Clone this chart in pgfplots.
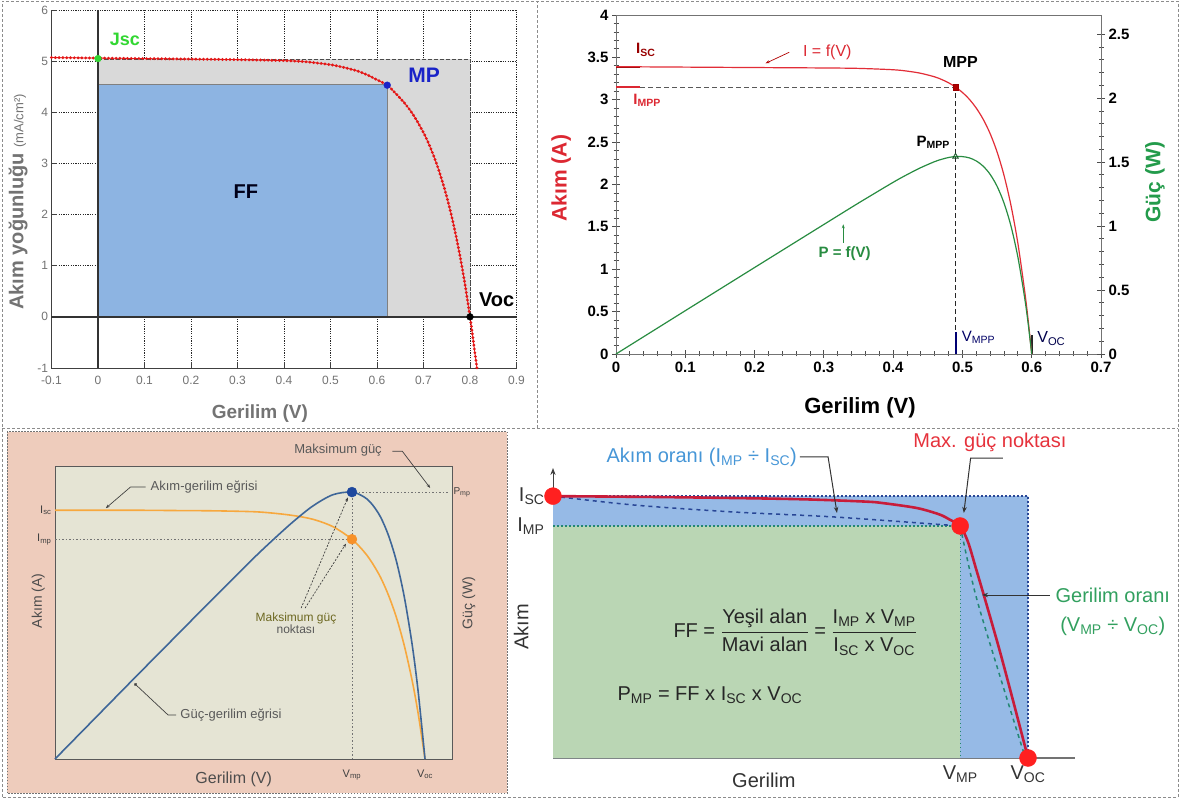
\documentclass[border=0pt]{standalone}
\usepackage{fontspec}
\setmainfont{Liberation Sans}
\usepackage{pgfplots}
\pgfplotsset{compat=1.18}
\usetikzlibrary{arrows.meta}
\newcommand{\fsz}[1]{\fontsize{#1}{#1}\selectfont}
\definecolor{rectgray}{RGB}{217,217,217}
\definecolor{rectblue}{RGB}{141,180,226}
\definecolor{jvred}{RGB}{228,22,22}
\definecolor{jscgreen}{RGB}{50,215,50}
\definecolor{mpblue}{RGB}{25,35,200}
\definecolor{ivred}{RGB}{226,45,55}
\definecolor{pvgreen}{RGB}{40,140,65}
\definecolor{labred}{RGB}{220,40,50}
\definecolor{labgreen}{RGB}{35,155,75}
\definecolor{pinkbg}{RGB}{238,204,188}
\definecolor{beige}{RGB}{229,228,212}
\definecolor{ivorange}{RGB}{247,168,62}
\definecolor{pvsteel}{RGB}{62,102,152}
\definecolor{dotblue}{RGB}{30,72,158}
\definecolor{dotorange}{RGB}{247,145,40}
\definecolor{ffblue}{RGB}{150,186,230}
\definecolor{ffgreen}{RGB}{186,214,180}
\definecolor{ffred}{RGB}{200,28,58}
\definecolor{ffdot}{RGB}{255,32,32}
\definecolor{ffnavy}{RGB}{40,70,150}
\definecolor{ffteal}{RGB}{35,135,115}
\definecolor{txtblue}{RGB}{70,150,215}
\definecolor{txtred}{RGB}{230,50,60}
\definecolor{txtgreen}{RGB}{50,160,95}
\begin{document}
\begin{tikzpicture}
\path[use as bounding box] (0pt,0pt) rectangle (1180pt,798pt);
\fill[white] (0pt,0pt) rectangle (1180pt,798pt);
\draw[black!45, dash pattern=on 3pt off 2pt, line width=0.8pt] (2pt,1pt) rectangle (1178pt,797pt);
\draw[black!45, dash pattern=on 3pt off 2pt, line width=0.8pt] (2pt,370pt) -- (1178pt,370pt);
\draw[black!45, dash pattern=on 3pt off 2pt, line width=0.8pt] (537pt,370pt) -- (537pt,797pt);
\fill[pinkbg] (7pt,5pt) rectangle (507pt,366pt);
\draw[black!55, dash pattern=on 1.5pt off 1.5pt, line width=1pt] (7pt,5pt) rectangle (507pt,366pt);
\coordinate (A1) at (51.5pt,430pt);
\coordinate (A2) at (616pt,444pt);
\coordinate (A3) at (55pt,39pt);
\coordinate (A4) at (553pt,40pt);

% ================= Panel 1 =================
\begin{axis}[
  at={(A1)}, anchor=south west, scale only axis,
  width=465pt, height=358pt,
  xmin=-0.1, xmax=0.9, ymin=-1, ymax=6,
  xtick={-0.1,0,0.1,0.2,0.3,0.4,0.5,0.6,0.7,0.8,0.9},
  xticklabels={-0.1,0,0.1,0.2,0.3,0.4,0.5,0.6,0.7,0.8,0.9},
  ytick={-1,0,1,2,3,4,5,6},
  yticklabels={-1,0,1,2,3,4,5,6},
  axis x line*=bottom, axis y line*=left,
  axis line style={-, black!75, line width=0.8pt},
  grid=major, grid style={black!85, dash pattern=on 1.2pt off 1.2pt, line width=0.6pt},
  tick align=inside, major tick length=6pt, tick style={black!75, line width=0.8pt},
  ticklabel style={font=\fsz{12}, text=black!55},
  xticklabel style={yshift=-5pt},
  clip=false,
]
\addplot[fill=rectgray, draw=none] coordinates {(0,0) (0,5.04) (0.8,5.04) (0.8,0) (0,0)};
\addplot[black!70, dash pattern=on 4pt off 2pt, line width=0.8pt] coordinates {(0,5.04) (0.8,5.04) (0.8,0)};
\addplot[fill=rectblue, draw=black!50, line width=0.6pt] coordinates {(0,0) (0,4.55) (0.622,4.55) (0.622,0) (0,0)};
\addplot[black!80, line width=1.6pt] coordinates {(0,-1) (0,6)};
\addplot[black!80, line width=1.6pt] coordinates {(-0.1,0) (0.9,0)};
\addplot[jvred, line width=0.8pt, smooth] coordinates {(-0.1,5.07)(0,5.06)(0.1,5.05)(0.2,5.04)(0.3,5.03)(0.4,5.01)(0.45,4.985)(0.5,4.93)(0.52,4.895)(0.54,4.853)(0.56,4.80)(0.58,4.727)(0.60,4.635)(0.622,4.53)(0.64,4.37)(0.66,4.172)(0.68,3.923)(0.70,3.603)(0.71,3.41)(0.72,3.192)(0.73,2.945)(0.74,2.664)(0.75,2.347)(0.76,1.987)(0.77,1.579)(0.78,1.117)(0.79,0.593)(0.80,0.0)(0.805,-0.32)(0.81,-0.67)(0.815,-1.0)};
\addplot[jvred, line width=3.2pt, line cap=round, dash pattern=on 0pt off 3.8pt, smooth] coordinates {(-0.1,5.07)(0,5.06)(0.1,5.05)(0.2,5.04)(0.3,5.03)(0.4,5.01)(0.45,4.985)(0.5,4.93)(0.52,4.895)(0.54,4.853)(0.56,4.80)(0.58,4.727)(0.60,4.635)(0.622,4.53)(0.64,4.37)(0.66,4.172)(0.68,3.923)(0.70,3.603)(0.71,3.41)(0.72,3.192)(0.73,2.945)(0.74,2.664)(0.75,2.347)(0.76,1.987)(0.77,1.579)(0.78,1.117)(0.79,0.593)(0.80,0.0)(0.805,-0.32)(0.81,-0.67)(0.815,-1.0)};
\addplot[only marks, mark=*, mark size=3.4pt, jscgreen] coordinates {(0,5.05)};
\addplot[only marks, mark=*, mark size=3.4pt, mpblue] coordinates {(0.622,4.53)};
\addplot[only marks, mark=*, mark size=3.4pt, black] coordinates {(0.8,0)};
\node[anchor=west, text=jscgreen, font=\bfseries\fsz{18}] at (axis cs:0.018,5.42) {Jsc};
\node[anchor=west, text=mpblue, font=\bfseries\fsz{21}] at (axis cs:0.66,4.72) {MP};
\node[anchor=west, text=black, font=\bfseries\fsz{20}] at (axis cs:0.812,0.33) {Voc};
\node[text=black!90!blue, font=\bfseries\fsz{20}] at (axis cs:0.318,2.44) {FF};
\node[text=black!55, font=\bfseries\fsz{19}] at (axis description cs:0.448,-0.126) {Gerilim (V)};
\node[rotate=90, text=black!55, font=\bfseries\fsz{20}] at (axis description cs:-0.072,0.464) {Akım yoğunluğu {\mdseries\fsz{13}(mA/cm²)}};
\end{axis}

% ================= Panel 2 =================
\begin{axis}[
  at={(A2)}, anchor=south west, scale only axis, width=485pt, height=339pt,
  xmin=0, xmax=0.7, ymin=0, ymax=4,
  xtick={0,0.1,0.2,0.3,0.4,0.5,0.6,0.7},
  xticklabels={0,0.1,0.2,0.3,0.4,0.5,0.6,0.7},
  ytick={0,0.5,1,1.5,2,2.5,3,3.5,4},
  yticklabels={0,0.5,1,1.5,2,2.5,3,3.5,4},
  minor x tick num=4, minor y tick num=4,
  tick pos=left, tick align=center,
  major tick length=8pt, minor tick length=5pt,
  tick style={black!70, line width=0.8pt},
  axis line style={black!55, line width=0.9pt},
  ticklabel style={font=\bfseries\fsz{15}},
  clip=false,
]
\addplot[black!65, dash pattern=on 5pt off 3pt, line width=0.9pt] coordinates {(0,3.15) (0.49,3.15)};
\addplot[black!85, dash pattern=on 5pt off 3pt, line width=0.8pt] coordinates {(0.49,0) (0.49,3.15)};
\addplot[red!55!black, line width=2.2pt] coordinates {(0,3.39) (0.035,3.39)};
\addplot[labred, line width=2.2pt] coordinates {(0,3.15) (0.035,3.15)};
\addplot[blue!45!black, line width=2pt] coordinates {(0.49,0) (0.49,0.26)};
\addplot[black!85, line width=2.2pt] coordinates {(0.6,0) (0.6,0.22)};
\addplot[ivred, line width=1.2pt, smooth] coordinates {(0,3.39)(0.1,3.385)(0.2,3.38)(0.3,3.375)(0.35,3.37)(0.4,3.354)(0.42,3.338)(0.44,3.312)(0.46,3.27)(0.47,3.239)(0.48,3.20)(0.49,3.15)(0.50,3.086)(0.51,3.005)(0.52,2.901)(0.53,2.769)(0.54,2.60)(0.55,2.384)(0.56,2.108)(0.57,1.756)(0.58,1.307)(0.59,0.732)(0.595,0.388)(0.6,0)};
\addplot[only marks, mark=square*, mark size=2.8pt, fill=red!70!black, draw=red!60!black] coordinates {(0.49,3.15)};
\node[anchor=west, text=red!60!black, font=\bfseries\fsz{15}] at (axis cs:0.024,3.59) {I\textsubscript{SC}};
\node[anchor=west, text=labred, font=\bfseries\fsz{15}] at (axis cs:0.02,2.99) {I\textsubscript{MPP}};
\node[text=labred, font=\fsz{16}] at (axis cs:0.305,3.56) {I = f(V)};
\draw[-{Stealth[length=4pt]}, red!70!black, line width=0.7pt] (axis cs:0.25,3.56) -- (axis cs:0.216,3.43);
\node[font=\bfseries\fsz{16}] at (axis cs:0.497,3.44) {MPP};
\node[anchor=east, font=\bfseries\fsz{15}] at (axis cs:0.487,2.5) {P\textsubscript{MPP}};
\node[text=pvgreen, font=\bfseries\fsz{15}] at (axis cs:0.33,1.19) {P = f(V)};
\draw[-{Stealth[length=4pt]}, pvgreen, line width=0.8pt] (axis cs:0.328,1.31) -- (axis cs:0.328,1.53);
\node[anchor=west, text=blue!40!black, font=\fsz{15}] at (axis cs:0.494,0.2) {V\textsubscript{MPP}};
\node[anchor=west, text=blue!30!black, font=\fsz{16}] at (axis cs:0.603,0.18) {V\textsubscript{OC}};
\node[font=\bfseries\fsz{22}] at (axis description cs:0.503,-0.159) {Gerilim (V)};
\node[rotate=90, text=labred, font=\bfseries\fsz{21}] at (axis description cs:-0.113,0.519) {Akım (A)};
\end{axis}
\begin{axis}[
  at={(A2)}, anchor=south west, scale only axis, width=485pt, height=339pt,
  xmin=0, xmax=0.7, ymin=0, ymax=2.65,
  axis x line=none, axis y line*=right,
  ytick={0,0.5,1,1.5,2,2.5}, yticklabels={0,0.5,1,1.5,2,2.5},
  minor y tick num=4, tick align=center,
  major tick length=8pt, minor tick length=5pt,
  tick style={black!70, line width=0.8pt},
  axis line style={-, black!55, line width=0.9pt},
  ticklabel style={font=\bfseries\fsz{15}},
  clip=false,
]
\addplot[pvgreen, line width=1.2pt, smooth] coordinates {(0,0)(0.1,0.3385)(0.2,0.676)(0.3,1.0125)(0.35,1.18)(0.4,1.342)(0.42,1.402)(0.44,1.457)(0.46,1.504)(0.47,1.522)(0.48,1.536)(0.49,1.5435)(0.50,1.543)(0.51,1.533)(0.52,1.509)(0.53,1.468)(0.54,1.404)(0.55,1.311)(0.56,1.18)(0.57,1.001)(0.58,0.758)(0.59,0.432)(0.595,0.231)(0.6,0)};
\addplot[only marks, mark=triangle, mark size=3.2pt, pvgreen!60!black, line width=0.8pt] coordinates {(0.49,1.5435)};
\node[rotate=90, text=labgreen, font=\bfseries\fsz{21}] at (axis description cs:1.111,0.507) {Güç (W)};
\end{axis}

% ================= Panel 3 =================
\begin{axis}[
  at={(A3)}, anchor=south west, scale only axis, width=397pt, height=293pt,
  xmin=0, xmax=1, ymin=0, ymax=1,
  axis background/.style={fill=beige},
  axis line style={black!65, line width=0.8pt},
  xtick={0.748,0.932}, xticklabels={V\textsubscript{mp},V\textsubscript{oc}},
  ytick={0.75,0.849}, yticklabels={I\textsubscript{mp},I\textsubscript{sc}},
  tick pos=left, major tick length=0pt,
  ticklabel style={font=\fsz{11}, text=black!75},
  xticklabel style={yshift=-7pt},
  clip=false,
]
\addplot[black!55, dash pattern=on 1.5pt off 2pt, line width=0.8pt] coordinates {(0,0.75) (0.748,0.75)};
\addplot[black!55, dash pattern=on 1.5pt off 2pt, line width=0.8pt] coordinates {(0.748,0) (0.748,0.911)};
\addplot[black!55, dash pattern=on 1.5pt off 2pt, line width=0.8pt] coordinates {(0.748,0.911) (0.99,0.911)};
\addplot[ivorange, line width=1.6pt, smooth] coordinates {(0,0.849)(0.1,0.849)(0.2,0.849)(0.3,0.848)(0.4,0.847)(0.5,0.844)(0.55,0.839)(0.6,0.831)(0.65,0.818)(0.7,0.793)(0.748,0.750)(0.78,0.705)(0.8,0.667)(0.82,0.620)(0.84,0.559)(0.86,0.483)(0.88,0.386)(0.9,0.265)(0.915,0.153)(0.932,0)};
\addplot[pvsteel, line width=1.6pt, smooth] coordinates {(0,0)(0.1,0.138)(0.2,0.276)(0.3,0.413)(0.4,0.550)(0.5,0.685)(0.55,0.749)(0.6,0.810)(0.65,0.864)(0.7,0.902)(0.748,0.911)(0.78,0.893)(0.8,0.867)(0.82,0.826)(0.84,0.763)(0.86,0.675)(0.88,0.552)(0.9,0.387)(0.915,0.227)(0.932,0)};
\addplot[only marks, mark=*, mark size=5pt, dotblue] coordinates {(0.748,0.911)};
\addplot[only marks, mark=*, mark size=5pt, dotorange] coordinates {(0.748,0.75)};
\node[anchor=west, text=black!65, font=\fsz{13}] at (axis cs:0.232,0.928) {Akım-gerilim eğrisi};
\draw[black!75, line width=0.7pt, -{Stealth[length=4pt]}] (axis cs:0.228,0.928) -- (axis cs:0.19,0.928) -- (axis cs:0.128,0.856);
\node[text=black!65, font=\fsz{13}] at (axis cs:0.713,1.055) {Maksimum güç};
\draw[black!75, line width=0.7pt, -{Stealth[length=4pt]}] (axis cs:0.85,1.05) -- (axis cs:0.875,1.05) -- (axis cs:0.945,0.925);
\node[anchor=west, text=black!75, font=\fsz{10}] at (axis cs:0.995,0.911) {P\textsubscript{mp}};
\node[align=center, text=black!65, font=\fsz{12}] at (axis cs:0.607,0.465) {\textcolor{olive!70!black}{Maksimum güç}\\noktası};
\draw[black!75, line width=0.7pt, dash pattern=on 2pt off 1.5pt, -{Stealth[length=4pt]}] (axis cs:0.62,0.515) -- (axis cs:0.738,0.893);
\draw[black!75, line width=0.7pt, dash pattern=on 2pt off 1.5pt, -{Stealth[length=4pt]}] (axis cs:0.63,0.515) -- (axis cs:0.733,0.735);
\node[anchor=west, text=black!65, font=\fsz{13}] at (axis cs:0.307,0.15) {Güç-gerilim eğrisi};
\draw[black!75, line width=0.7pt, -{Circle[length=3pt]}] (axis cs:0.305,0.15) -- (axis cs:0.285,0.15) -- (axis cs:0.2,0.258);
\node[text=black!70, font=\fsz{16}] at (axis description cs:0.45,-0.068) {Gerilim (V)};
\node[rotate=90, text=black!70, font=\fsz{14}] at (axis description cs:-0.042,0.54) {Akım (A)};
\node[rotate=90, text=black!70, font=\fsz{14}] at (axis description cs:1.042,0.532) {Güç (W)};
\end{axis}

% ================= Panel 4 =================
\begin{axis}[
  at={(A4)}, anchor=south west, scale only axis, width=522pt, height=290pt,
  xmin=0, xmax=1, ymin=0, ymax=1,
  axis x line=bottom, axis y line=left,
  x axis line style={-, black!55, line width=1.3pt},
  y axis line style={-{Stealth[length=7pt]}, black!75, line width=1pt},
  xtick={0.78,0.91}, xticklabels={V\textsubscript{MP},V\textsubscript{OC}},
  ytick={0.80,0.903}, yticklabels={I\textsubscript{MP},I\textsubscript{SC}},
  major tick length=0pt,
  ticklabel style={font=\fsz{20}, text=black!80},
  xticklabel style={yshift=-4pt},
  yticklabel style={xshift=-5pt},
  clip=false,
]
\addplot[fill=ffblue, draw=none] coordinates {(0,0) (0,0.903) (0.91,0.903) (0.91,0) (0,0)};
\addplot[fill=ffgreen, draw=none] coordinates {(0,0) (0,0.80) (0.78,0.80) (0.78,0) (0,0)};
\addplot[ffnavy, dash pattern=on 1.5pt off 2.5pt, line width=1.3pt] coordinates {(0,0.903) (0.91,0.903) (0.91,0)};
\addplot[ffteal, dash pattern=on 1.5pt off 2.5pt, line width=1.3pt] coordinates {(0,0.80) (0.78,0.80) (0.78,0)};
\addplot[ffnavy, dash pattern=on 4pt off 4pt, line width=1.5pt, smooth] coordinates {(0,0.903)(0.157,0.872)(0.349,0.848)(0.54,0.831)(0.78,0.80)};
\addplot[ffteal, dash pattern=on 4pt off 4pt, line width=1.5pt, smooth] coordinates {(0.78,0.80)(0.81,0.56)(0.86,0.26)(0.905,0)};
\addplot[ffred, line width=2.6pt, smooth] coordinates {(0,0.903)(0.2,0.900)(0.4,0.895)(0.5,0.891)(0.6,0.884)(0.632,0.879)(0.697,0.862)(0.74,0.840)(0.76,0.822)(0.78,0.800)(0.795,0.745)(0.81,0.655)(0.828,0.545)(0.855,0.375)(0.881,0.200)(0.91,0)};
\addplot[only marks, mark=*, mark size=8.5pt, ffdot] coordinates {(0,0.903) (0.78,0.80) (0.91,0)};
\node[anchor=west, text=txtblue, font=\fsz{20}] at (axis cs:0.096,1.038) {Akım oranı (I\textsubscript{MP} ÷ I\textsubscript{SC})};
\draw[black!80, line width=1pt, -{Stealth[length=6pt]}] (axis cs:0.473,1.038) -- (axis cs:0.527,1.038) -- (axis cs:0.544,0.845);
\node[text=txtred, font=\fsz{20}] at (axis cs:0.837,1.09) {Max. güç noktası};
\draw[black!80, line width=1pt, -{Stealth[length=6pt]}] (axis cs:0.862,1.034) -- (axis cs:0.80,1.034) -- (axis cs:0.787,0.845);
\node[anchor=west, text=txtgreen, font=\fsz{20}] at (axis cs:0.956,0.562) {Gerilim oranı};
\node[anchor=west, text=txtgreen, font=\fsz{20}] at (axis cs:0.965,0.455) {(V\textsubscript{MP} ÷ V\textsubscript{OC})};
\draw[black!80, line width=1pt, -{Stealth[length=6pt]}] (axis cs:0.952,0.562) -- (axis cs:0.822,0.562);
\node[font=\fsz{20}, text=black!85] at (axis cs:0.464,0.434) {FF = $\displaystyle\frac{\mbox{Yeşil alan}}{\mbox{Mavi alan}}$ = $\displaystyle\frac{\mbox{I\textsubscript{MP} x V\textsubscript{MP}}}{\mbox{I\textsubscript{SC} x V\textsubscript{OC}}}$};
\node[anchor=west, font=\fsz{20}, text=black!85] at (axis cs:0.117,0.217) {P\textsubscript{MP} = FF x I\textsubscript{SC} x V\textsubscript{OC}};
\node[font=\fsz{20}, text=black!80] at (axis description cs:0.404,-0.076) {Gerilim};
\node[rotate=90, font=\fsz{20}, text=black!80] at (axis description cs:-0.061,0.452) {Akım};
\end{axis}
\end{tikzpicture}
\end{document}
